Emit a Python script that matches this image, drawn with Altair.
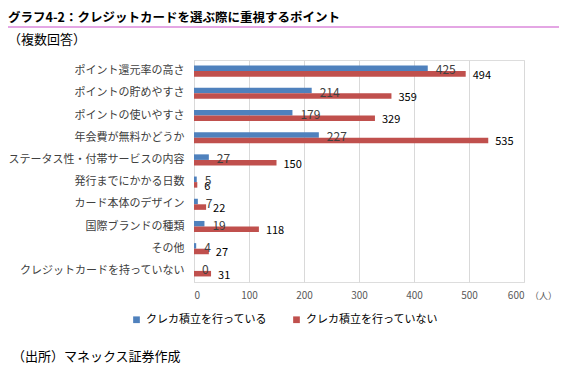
import altair as alt
import pandas as pd

categories = ["ポイント還元率の高さ", "ポイントの貯めやすさ", "ポイントの使いやすさ", "年会費が無料かどうか",
              "ステータス性・付帯サービスの内容", "発行までにかかる日数", "カード本体のデザイン",
              "国際ブランドの種類", "その他", "クレジットカードを持っていない"]
series = ["クレカ積立を行っている", "クレカ積立を行っていない"]
vals_yes = [425, 214, 179, 227, 27, 5, 7, 19, 4, 0]
vals_no = [494, 359, 329, 535, 150, 6, 22, 118, 27, 31]
x_ticks = [0, 100, 200, 300, 400, 500, 600]
colors = ["#4F81BD", "#C0504D"]

title_text = "グラフ4-2：クレジットカードを選ぶ際に重視するポイント"
sub_text = "（複数回答）"
foot_text = "（出所）マネックス証券作成"
unit_text = "（人）"

rows = []
for c, a, b in zip(categories, vals_yes, vals_no):
    rows.append({"cat": c, "series": series[0], "v": a})
    rows.append({"cat": c, "series": series[1], "v": b})
df = pd.DataFrame(rows)

FONT = "Noto Sans CJK JP"

y_enc = alt.Y("cat:N", sort=categories, title=None,
              scale=alt.Scale(paddingInner=0.5, paddingOuter=0.25),
              axis=alt.Axis(labelFontSize=11, labelColor="#404040", labelPadding=10,
                            ticks=False, domainColor="#d9d9d9", labelFont=FONT, labelLimit=200))
x_enc = alt.X("v:Q", title=None, scale=alt.Scale(domain=[0, 600]),
              axis=alt.Axis(values=x_ticks, labelFontSize=10, labelColor="#595959", labelPadding=8,
                            ticks=False, domain=False, gridColor="#d9d9d9", labelFont=FONT))
yoff = alt.YOffset("series:N", sort=series)

base = alt.Chart(df)

bars = base.mark_bar().encode(
    y=y_enc, x=x_enc, yOffset=yoff,
    color=alt.Color("series:N", sort=series, scale=alt.Scale(domain=series, range=colors),
                    legend=alt.Legend(title=None, orient="none", legendX=-63, legendY=254,
                                      direction="horizontal", symbolType="square", symbolSize=45,
                                      labelFontSize=11, labelColor="#000000", labelFont=FONT,
                                      columnPadding=24, labelOffset=4, labelLimit=300)),
)

txt_yes = base.transform_filter(alt.datum.series == series[0]).mark_text(
    align="left", baseline="middle", dx=8, dy=2, fontSize=12, color="#404040", font=FONT
).encode(y=alt.Y("cat:N", sort=categories), x="v:Q", yOffset=yoff, text="v:Q")

txt_no = base.transform_filter(alt.datum.series == series[1]).mark_text(
    align="left", baseline="middle", dx=7, dy=2, fontSize=11, color="#000000", font=FONT
).encode(y=alt.Y("cat:N", sort=categories), x="v:Q", yOffset=yoff, text="v:Q")

ann = pd.DataFrame({"t": [title_text]})
title_mark = alt.Chart(ann).mark_text(align="left", baseline="top", fontSize=12.5, fontWeight="bold",
                                      font=FONT, color="#000000").encode(
    x=alt.value(-186), y=alt.value(-48), text="t:N")
line_mark = alt.Chart(ann).mark_rule(color="#E4A6E4", strokeWidth=2).encode(
    x=alt.value(-186), x2=alt.value(368), y=alt.value(-33))
sub_mark = alt.Chart(pd.DataFrame({"t": [sub_text]})).mark_text(
    align="left", baseline="middle", fontSize=13, font=FONT, color="#000000").encode(
    x=alt.value(-186), y=alt.value(-20), text="t:N")
foot_mark = alt.Chart(pd.DataFrame({"t": [foot_text]})).mark_text(
    align="left", baseline="middle", fontSize=13, font=FONT, color="#000000").encode(
    x=alt.value(-182), y=alt.value(297), text="t:N")
unit_mark = alt.Chart(pd.DataFrame({"t": [unit_text]})).mark_text(
    align="left", baseline="middle", fontSize=9, font=FONT, color="#595959").encode(
    x=alt.value(336), y=alt.value(236), text="t:N")

chart = alt.layer(bars, txt_yes, txt_no, title_mark, line_mark, sub_mark, foot_mark, unit_mark).properties(
    width=330, height=222,
    autosize=alt.AutoSizeParams(type="none"),
    padding={"left": 186, "top": 52, "right": 35, "bottom": 93},
).configure_view(stroke=None).configure(background="white")

chart.save("out.html", embed_options={"renderer": "svg", "actions": False})
